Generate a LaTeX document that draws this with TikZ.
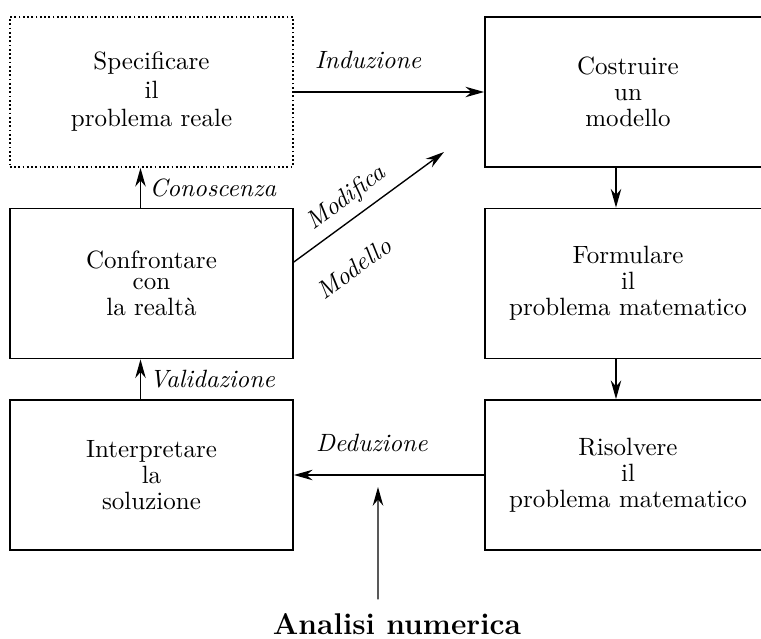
\documentclass[tikz,border=0pt]{standalone}
\usetikzlibrary{arrows.meta}
\begin{document}
\begin{tikzpicture}[x=0.4pt,y=-0.4pt,line width=0.55pt,
  >={Stealth[length=7.5pt,width=4.2pt]},
  main node/.style={draw,line width=0.7pt,align=center,inner sep=0pt,
    minimum height=60pt,font=\fontsize{10}{10.4}\selectfont},
  left node/.style={main node,minimum width=113.2pt},
  right node/.style={main node,minimum width=114.4pt}]

  \useasboundingbox (0,0) rectangle (761,639);

  \node[left node,densely dotted] (1) at (151.5,92) {Specificare\\[1pt]il\\[1pt]problema reale};
  \node[right node] (2) at (628,92) {Costruire\\un\\modello};
  \node[left node] (3) at (151.5,283.5) {Confrontare\\[-2pt]con\\la realtà};
  \node[right node] (4) at (628,283.5) {Formulare\\il\\problema matematico};
  \node[left node] (5) at (151.5,475) {Interpretare\\la\\soluzione};
  \node[right node] (6) at (628,475) {Risolvere\\il\\problema matematico};

  \node (7) at (397,624) {\fontsize{12}{14}\selectfont\bfseries Analisi numerica};
  \coordinate (8) at (444,152);
  \coordinate (9) at (378,487);

  \path[->,every node/.style={font=\itshape}]
   (1) edge node[above=5.5pt,pos=0.39]{Induzione} (2)
   ([xshift=-4.8pt]2.south) edge ([xshift=-4.8pt]4.north)
   ([xshift=-4.8pt]4.south) edge ([xshift=-4.8pt]6.north)
   (6) edge node[above=5.5pt,pos=0.59]{Deduzione} (5)
   ([xshift=-4.4pt]5.north) edge node[right]{Validazione} ([xshift=-4.4pt]3.south)
   ([xshift=-4.4pt]3.north) edge node[right]{Conoscenza} ([xshift=-4.4pt]1.south)
   ([yshift=8.6pt]3.east) edge node[sloped,above,pos=0.43]{Modifica}
     node[sloped,below=9pt,pos=0.24]{Modello} (8)
   ([xshift=-7.6pt,yshift=2pt]7.north) edge (9);
\end{tikzpicture}
\end{document}
